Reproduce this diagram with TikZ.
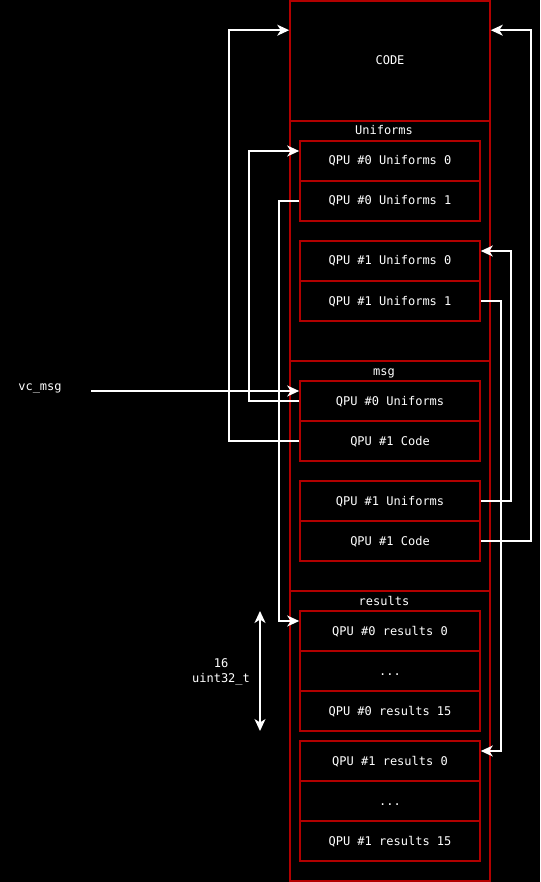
\documentclass[tikz,border=0pt]{standalone}
\usepackage{fontspec}
\setmonofont{DejaVu Sans Mono}
\usetikzlibrary{arrows.meta}
\definecolor{boxred}{HTML}{B20000}
\begin{document}
\begin{tikzpicture}[x=1pt,y=-1pt,
  every node/.style={font=\ttfamily\fontsize{12}{14.5}\selectfont, text=white},
  sect/.style={draw=boxred, line width=1.6pt, minimum width=200pt, inner sep=0pt},
  cell/.style={draw=boxred, line width=1.6pt, minimum width=180pt, minimum height=40pt, inner sep=0pt, text height=10pt, text depth=2pt},
  ttl/.style={inner sep=0pt, text height=10pt, text depth=2pt},
  wire/.style={draw=white, line width=1.5pt},
  arr/.style={wire, -{Stealth[length=12pt,width=11pt,inset=3.5pt]}},
  darr/.style={wire, {Stealth[length=12pt,width=11pt,inset=3.5pt]}-{Stealth[length=12pt,width=11pt,inset=3.5pt]}}]
\fill[black] (0,0) rectangle (540,882);
\useasboundingbox (0,0) rectangle (540,882);
% sections
\node[sect, minimum height=120pt] (code) at (390,61) {};
\node[ttl] (codelabel) at (390,61) {CODE};
\node[sect, minimum height=240pt] (usec) at (390,241) {};
\node[ttl] (utitle) at (384,131) {Uniforms};
\node[sect, minimum height=230pt] (msec) at (390,476) {};
\node[ttl] (mtitle) at (384,371) {msg};
\node[sect, minimum height=290pt] (rsec) at (390,736) {};
\node[ttl] (rtitle) at (384,601) {results};
% uniforms cells
\node[cell] (u00) at (390,161) {QPU \#0 Uniforms 0};
\node[cell] (u01) at (390,201) {QPU \#0 Uniforms 1};
\node[cell] (u10) at (390,261) {QPU \#1 Uniforms 0};
\node[cell] (u11) at (390,301) {QPU \#1 Uniforms 1};
% msg cells
\node[cell] (m0u) at (390,401) {QPU \#0 Uniforms};
\node[cell] (m0c) at (390,441) {QPU \#1 Code};
\node[cell] (m1u) at (390,501) {QPU \#1 Uniforms};
\node[cell] (m1c) at (390,541) {QPU \#1 Code};
% results cells
\node[cell] (r00) at (390,631) {QPU \#0 results 0};
\node[cell] (r0d) at (390,671) {...};
\node[cell] (r015) at (390,711) {QPU \#0 results 15};
\node[cell] (r10) at (390,761) {QPU \#1 results 0};
\node[cell] (r1d) at (390,801) {...};
\node[cell] (r115) at (390,841) {QPU \#1 results 15};
% labels
\node[ttl] (vclabel) at (40,386) {vc\_msg};
\coordinate (vcstart) at (91,391);
\node[align=center] (cnt) at (221,672) {16\\uint32\_t};
\coordinate (dtop) at (260,611);
\coordinate (dbot) at (260,731);
% connectors
\draw[arr] (m0c.west) -- ++(-70,0) |- ([yshift=-30pt]code.north west);
\draw[arr] (m0u.west) -- ++(-50,0) |- ([yshift=10pt]u00.west);
\draw[arr] (u01.west) -- ++(-20,0) |- ([yshift=10pt]r00.west);
\draw[arr] (vcstart) -- ([yshift=10pt]m0u.west);
\draw[arr] (m1c.east) -- ++(50,0) |- ([yshift=-30pt]code.north east);
\draw[arr] (m1u.east) -- ++(30,0) |- ([yshift=10pt]u10.east);
\draw[arr] (u11.east) -- ++(20,0) |- ([yshift=10pt]r10.east);
\draw[darr] (dtop) -- (dbot);
\end{tikzpicture}
\end{document}
